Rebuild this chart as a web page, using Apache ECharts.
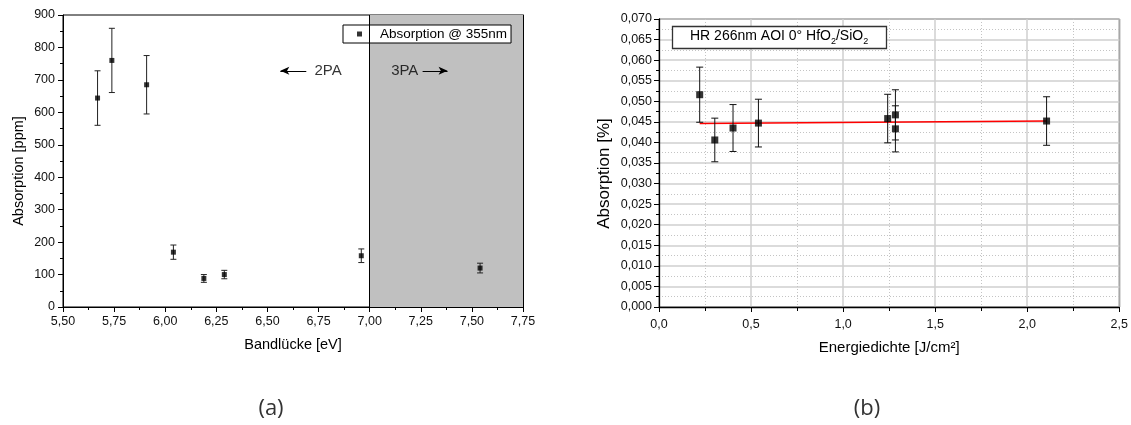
<!DOCTYPE html>
<html><head><meta charset="utf-8">
<script src="https://cdn.jsdelivr.net/npm/echarts@6/dist/echarts.min.js"></script>
<style>html,body{margin:0;padding:0;background:#fff;}#c{width:1131px;height:425px;}</style>
</head><body><div id="c"></div>
<script>
// ---- Chart (a) ----
const bandX = [5.669, 5.739, 5.909, 6.040, 6.189, 6.289, 6.959, 7.540];
const absPpm = [644, 760, 685, 169, 88, 100, 158, 120];
const absPpmErr = [84, 99, 90, 22, 12, 13, 21, 15];
const seriesNameA = 'Absorption @ 355nm';
const regionA = [7.0, 7.75];
const annoLabels = ['2PA', '3PA'];
const annoX = [6.73, 7.105];
const annoY = [728, 728];
const arrowFrom = [[6.690, 728], [7.259, 728]];
const arrowTo = [[6.563, 728], [7.381, 728]];
// ---- Chart (b) ----
const energyX = [0.221, 0.303, 0.402, 0.540, 1.242, 1.284, 1.284, 2.105];
const absPct = [0.0516, 0.0406, 0.0435, 0.0447, 0.0458, 0.0467, 0.0433, 0.0452];
const absPctErr = [0.0067, 0.0053, 0.0057, 0.0058, 0.0059, 0.0061, 0.0056, 0.0059];
const fitX = [0.221, 2.105];
const fitY = [0.04462, 0.04521];
const captions = ['(a)', '(b)'];

const F = 'Liberation Sans, Arial, sans-serif';
const comma = d => v => v.toFixed(d).replace('.', ',');

function errRender(cap, color) {
  return function (params, api) {
    const x = api.value(0), lo = api.value(1), hi = api.value(2);
    const p1 = api.coord([x, hi]), p2 = api.coord([x, lo]);
    const st = { stroke: color, lineWidth: 1 };
    return { type: 'group', children: [
      { type: 'line', shape: { x1: p1[0], y1: p1[1], x2: p2[0], y2: p2[1] }, style: st },
      { type: 'line', shape: { x1: p1[0] - cap, y1: p1[1], x2: p1[0] + cap, y2: p1[1] }, style: st },
      { type: 'line', shape: { x1: p2[0] - cap, y1: p2[1], x2: p2[0] + cap, y2: p2[1] }, style: st }
    ]};
  };
}

const errA = bandX.map((x, i) => [x, absPpm[i] - absPpmErr[i], absPpm[i] + absPpmErr[i]]);
const ptsA = bandX.map((x, i) => [x, absPpm[i]]);
const errB = energyX.map((x, i) => [x, absPct[i] - absPctErr[i], absPct[i] + absPctErr[i]]);
const ptsB = energyX.map((x, i) => [x, absPct[i]]);
const fitB = fitX.map((x, i) => [x, fitY[i]]);
const annoData = annoX.map((x, i) => ({ value: [x, annoY[i]], label: { formatter: annoLabels[i] } }));

const axLine = { lineStyle: { color: '#000', width: 1 } };
const lbl = { fontFamily: F, fontSize: 12.5, color: '#111' };

const option = {
  animation: false,
  backgroundColor: '#fff',
  grid: [
    { left: 63, top: 15, width: 460, height: 292, show: true, borderColor: '#000', borderWidth: 1, backgroundColor: 'transparent' },
    { left: 659, top: 19, width: 461, height: 288, show: true, borderColor: '#000', borderWidth: 1, backgroundColor: 'transparent' }
  ],
  title: [{
    text: '{n|HR 266nm AOI 0° HfO}{s|2}{n|/SiO}{s|2}',
    left: 672, top: 24, padding: [3, 19, 3, 18],
    borderColor: '#333', borderWidth: 1.3, backgroundColor: '#fff',
    textStyle: { fontWeight: 'normal', rich: {
      n: { fontFamily: F, fontSize: 14, fontWeight: 'normal', color: '#000', lineHeight: 18 },
      s: { fontFamily: F, fontSize: 9, fontWeight: 'normal', color: '#000', lineHeight: 19, verticalAlign: 'bottom' }
    } }
  }],
  legend: {
    data: [seriesNameA], left: 343, top: 25,
    padding: [2, 4, 2, 14], borderColor: '#000', borderWidth: 1, backgroundColor: '#fff',
    icon: 'rect', itemWidth: 5, itemHeight: 5,
    textStyle: { fontFamily: F, fontSize: 13.5, color: '#000', lineHeight: 14, padding: [0, 0, 0, 13] }
  },
  xAxis: [
    { type: 'value', gridIndex: 0, min: 5.5, max: 7.75, interval: 0.25, position: 'bottom',
      name: 'Bandlücke [eV]', nameLocation: 'middle', nameGap: 30,
      nameTextStyle: { fontFamily: F, fontSize: 14.5, color: '#000' },
      axisLine: axLine, axisTick: { length: 5, lineStyle: { color: '#000' } },
      minorTick: { show: true, splitNumber: 2, length: 3, lineStyle: { color: '#000' } },
      axisLabel: Object.assign({ formatter: comma(2), margin: 8 }, lbl), splitLine: { show: false } },
    { type: 'value', gridIndex: 0, min: 5.5, max: 7.75, interval: 0.25, position: 'top',
      axisLine: axLine, axisTick: { inside: true, length: 4, lineStyle: { color: '#000' } },
      minorTick: { show: true, splitNumber: 2, length: 2, lineStyle: { color: '#000' } },
      axisLabel: { show: false }, splitLine: { show: false } },
    { type: 'value', gridIndex: 1, min: 0, max: 2.5, interval: 0.5, position: 'bottom',
      name: 'Energiedichte [J/cm²]', nameLocation: 'middle', nameGap: 33,
      nameTextStyle: { fontFamily: F, fontSize: 15, color: '#000' },
      axisLine: { lineStyle: { color: '#000', width: 1.3 } }, axisTick: { length: 5, lineStyle: { color: '#000' } },
      minorTick: { show: true, splitNumber: 2, length: 4, lineStyle: { color: '#000' } },
      axisLabel: Object.assign({ formatter: comma(1), margin: 11 }, lbl),
      splitLine: { show: true, lineStyle: { color: '#cfcfcf', width: 1.5 } },
      minorSplitLine: { show: true, lineStyle: { color: '#c4c4c4', width: 1, type: [1, 2] } } }
  ],
  yAxis: [
    { type: 'value', gridIndex: 0, min: 0, max: 900, interval: 100, position: 'left',
      name: 'Absorption [ppm]', nameLocation: 'middle', nameGap: 37,
      nameTextStyle: { fontFamily: F, fontSize: 14.5, color: '#000', padding: [0, 20, 0, 0] },
      axisLine: axLine, axisTick: { length: 5, lineStyle: { color: '#000' } },
      minorTick: { show: true, splitNumber: 2, length: 3, lineStyle: { color: '#000' } },
      axisLabel: Object.assign({ margin: 8 }, lbl), splitLine: { show: false } },
    { type: 'value', gridIndex: 0, min: 0, max: 900, interval: 100, position: 'right',
      axisLine: axLine, axisTick: { inside: true, length: 4, lineStyle: { color: '#000' } },
      minorTick: { show: true, splitNumber: 2, length: 2, lineStyle: { color: '#000' } },
      axisLabel: { show: false }, splitLine: { show: false } },
    { type: 'value', gridIndex: 1, min: 0, max: 0.07, interval: 0.005, position: 'left',
      name: 'Absorption [%]', nameLocation: 'middle', nameGap: 46,
      nameTextStyle: { fontFamily: F, fontSize: 17, color: '#000', padding: [0, 21, 0, 0] },
      axisLine: { lineStyle: { color: '#000', width: 1.3 } }, axisTick: { length: 5, lineStyle: { color: '#000' } },
      minorTick: { show: true, splitNumber: 2, length: 3, lineStyle: { color: '#000' } },
      axisLabel: Object.assign({ formatter: comma(3), margin: 7 }, lbl),
      splitLine: { show: true, lineStyle: { color: '#cfcfcf', width: 1.5 } },
      minorSplitLine: { show: true, lineStyle: { color: '#c4c4c4', width: 1, type: [1, 2] } } }
  ],
  series: [
    { type: 'scatter', name: 'region', xAxisIndex: 0, yAxisIndex: 0, data: [], silent: true,
      markArea: { silent: true, itemStyle: { color: '#c0c0c0', opacity: 1 },
        data: [[{ xAxis: regionA[0] }, { xAxis: regionA[1] }]] },
      markLine: { silent: true, symbol: 'none', label: { show: false },
        lineStyle: { color: '#000', width: 1, type: 'solid' },
        data: [{ xAxis: regionA[0] }] } },
    { type: 'custom', name: 'errA', xAxisIndex: 0, yAxisIndex: 0, renderItem: errRender(3, '#222'),
      data: errA, encode: { x: 0, y: [1, 2] }, z: 3 },
    { type: 'scatter', name: seriesNameA, xAxisIndex: 0, yAxisIndex: 0, data: ptsA,
      symbol: 'rect', symbolSize: 5, itemStyle: { color: '#000' }, z: 4 },
    { type: 'scatter', name: 'anno', xAxisIndex: 0, yAxisIndex: 0, data: annoData, symbolSize: 0, silent: true,
      label: { show: true, position: 'right', distance: 0, fontFamily: F, fontSize: 15, color: '#000' },
      markLine: { silent: true, label: { show: false },
        lineStyle: { color: '#000', width: 1, type: 'solid' },
        data: arrowFrom.map((p, i) => [
          { coord: p, symbol: 'none', symbolSize: 1 },
          { coord: arrowTo[i], symbol: 'arrow', symbolSize: [6, 9], itemStyle: { color: '#000' } }
        ]) } },
    { type: 'line', name: 'fit', xAxisIndex: 2, yAxisIndex: 2, data: fitB, showSymbol: false,
      lineStyle: { color: '#ff0000', width: 1.5 }, z: 3 },
    { type: 'custom', name: 'errB', xAxisIndex: 2, yAxisIndex: 2, renderItem: errRender(3.5, '#111'),
      data: errB, encode: { x: 0, y: [1, 2] }, z: 4 },
    { type: 'scatter', name: 'ptsB', xAxisIndex: 2, yAxisIndex: 2, data: ptsB,
      symbol: 'rect', symbolSize: 7, itemStyle: { color: '#000' }, z: 5 }
  ],
  graphic: [
    { type: 'text', x: 271, y: 409, style: { text: captions[0], fontFamily: 'Open Sans, sans-serif', fontSize: 22, fill: '#333', align: 'center', verticalAlign: 'middle' } },
    { type: 'text', x: 867, y: 409, style: { text: captions[1], fontFamily: 'Open Sans, sans-serif', fontSize: 22, fill: '#333', align: 'center', verticalAlign: 'middle' } }
  ]
};
const chart = echarts.init(document.getElementById('c'), null, { renderer: 'canvas' });
chart.setOption(option);
</script></body></html>
